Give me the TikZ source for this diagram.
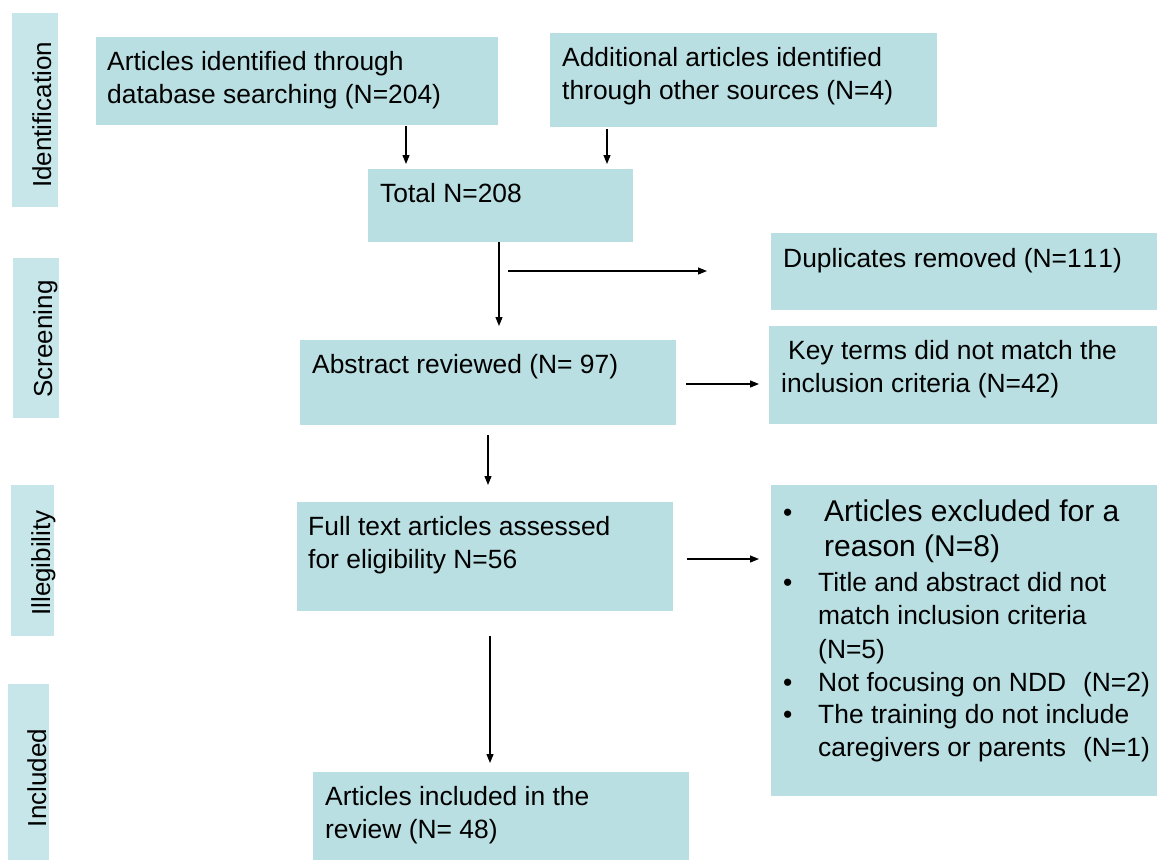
\documentclass[tikz,border=0pt]{standalone}
\usepackage{fontspec}
\setmainfont{Liberation Sans}
\usetikzlibrary{arrows.meta}
\definecolor{boxc}{RGB}{185,223,226}
\definecolor{sidec}{RGB}{198,230,233}
\begin{document}
\begin{tikzpicture}[x=1pt,y=-1pt,
  box/.style={fill=boxc, draw=none, inner sep=0pt, outer sep=0pt, anchor=north west},
  sidebox/.style={fill=sidec, draw=none, inner sep=0pt, outer sep=0pt, anchor=north west},
  sidetxt/.style={anchor=base, rotate=90, inner sep=0pt, font=\fontsize{26}{30}\selectfont},
  txt/.style={anchor=base west, inner sep=0pt, font=\fontsize{26.4}{33.5}\selectfont},
  bigtxt/.style={anchor=base west, inner sep=0pt, font=\fontsize{30}{35.5}\selectfont},
  arr/.style={line width=1.2pt, -{Triangle[length=9pt,width=7pt]}}]
\useasboundingbox[fill=white] (0,0) rectangle (1157,860);

% side boxes
\node[sidebox, minimum width=46, minimum height=194] (sid) at (12,13) {};
\node[sidebox, minimum width=46, minimum height=160] (sscr) at (13,258) {};
\node[sidebox, minimum width=43, minimum height=151] (sill) at (11,485) {};
\node[sidebox, minimum width=41, minimum height=176] (sinc) at (8,684) {};
\node[sidetxt] (lid) at (51,115) {Identification};
\node[sidetxt] (lscr) at (52,339) {Screening};
\node[sidetxt] (lill) at (50,563) {Illegibility};
\node[sidetxt] (linc) at (46,778) {Included};

% main boxes
\node[box, minimum width=402, minimum height=88] (b1) at (96,37) {};
\node[box, minimum width=387, minimum height=94] (b2) at (550,33) {};
\node[box, minimum width=265, minimum height=73] (total) at (368,169) {};
\node[box, minimum width=386, minimum height=77] (dup) at (771,233) {};
\node[box, minimum width=376, minimum height=85] (abs) at (300,340) {};
\node[box, minimum width=388, minimum height=98] (key) at (769,326) {};
\node[box, minimum width=376, minimum height=109] (full) at (297,502) {};
\node[box, minimum width=386, minimum height=311] (excl) at (771,485) {};
\node[box, minimum width=376, minimum height=88] (incl) at (313,772) {};

% texts
\node[txt] (t1) at (107,70) {\vtop{\hbox{Articles identified through}\hbox{database searching (N=204)}}};
\node[txt] (t2) at (562,66) {\vtop{\hbox{Additional articles identified}\hbox{through other sources (N=4)}}};
\node[txt] (t3) at (380,202) {Total N=208};
\node[txt] (t4) at (783,267) {Duplicates removed (N=1\kern1pt1\kern1pt1)};
\node[txt] (t5) at (312,373) {Abstract reviewed (N= 97)};
\node[txt] (t6) at (781,359) {\vtop{\hbox{\hspace{7pt}Key terms did not match the}\hbox{inclusion criteria (N=42)}}};
\node[txt] (t7) at (308,535) {\vtop{\hbox{Full text articles assessed}\hbox{for eligibility N=56}}};
\node[txt] (t8) at (325,805) {\vtop{\hbox{Articles included in the}\hbox{review (N= 48)}}};

% excluded list
\node[txt] (u1) at (783,521) {•};
\node[bigtxt] (e1) at (824,521) {\vtop{\hbox{Articles excluded for a}\hbox{reason (N=8)}}};
\node[txt] (u2) at (783,591) {•};
\node[txt] (e2) at (818,591) {\vtop{\hbox{Title and abstract did not}\hbox{match inclusion criteria}\hbox{(N=5)}}};
\node[txt] (u3) at (783,691) {•};
\node[txt] (e3) at (818,691) {Not focusing on NDD\hspace{17pt}(N=2)};
\node[txt] (u4) at (783,723) {•};
\node[txt] (e4) at (818,723) {\vtop{\hbox{The training do not include}\hbox{caregivers or parents\hspace{17pt}(N=1)}}};

% connectors
\coordinate (dupfrom) at (508,271);
\draw[arr, shorten <=1pt, shorten >=5pt] (406,0 |- b1.south) -- (406,0 |- total.north);
\draw[arr, shorten <=2pt, shorten >=5pt] (607,0 |- b2.south) -- (607,0 |- total.north);
\draw[arr, shorten >=14pt] (499,0 |- total.south) -- (499,0 |- abs.north);
\draw[arr, shorten >=64pt] (dupfrom) -- (dupfrom -| dup.west);
\draw[arr, shorten <=10pt, shorten >=10pt] (abs.east |- 0,384) -- (key.west |- 0,384);
\draw[arr, shorten <=10pt, shorten >=17pt] (488,0 |- abs.south) -- (488,0 |- full.north);
\draw[arr, shorten <=14pt, shorten >=12pt] (full.east |- 0,559) -- (excl.west |- 0,559);
\draw[arr, shorten <=25pt, shorten >=9pt] (490,0 |- full.south) -- (490,0 |- incl.north);
\end{tikzpicture}
\end{document}
